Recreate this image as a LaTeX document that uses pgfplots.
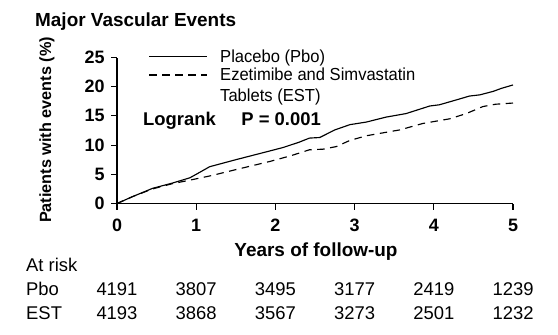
\documentclass[border=0pt]{standalone}
\usepackage{fontspec}
\setmainfont{Liberation Sans}
\usepackage{pgfplots}
\pgfplotsset{compat=1.18}
\begin{document}
\begin{tikzpicture}[x=1bp,y=1bp]
\useasboundingbox (0,0) rectangle (558,334);
\begin{axis}[
  at={(117bp,130.5bp)}, anchor=south west,
  scale only axis, width=396bp, height=146bp,
  xmin=0, xmax=5, ymin=0, ymax=25,
  axis lines=left, axis line style={line width=1.3pt,-},
  xtick={0,1,2,3,4,5}, ytick={0,5,10,15,20,25},
  tick align=outside, major tick length=6bp,
  tick style={line width=1.2pt,black},
  /pgf/number format/assume math mode=true,
  ticklabel style={font=\bfseries\fontsize{18}{20}\selectfont},
  yticklabel style={xshift=-3bp},
  xticklabel style={yshift=-6bp},
  clip=false,
]
\addplot[black, line width=1.15pt] coordinates {
(0,0) (0.2,1.2) (0.45,2.6) (0.7,3.5) (0.92,4.4) (1.0,5.0) (1.17,6.3) (1.5,7.5)
(1.93,9.0) (2.1,9.6) (2.3,10.5) (2.43,11.2) (2.56,11.3) (2.75,12.6) (2.94,13.5)
(3.15,13.95) (3.4,14.8) (3.65,15.4) (3.95,16.7) (4.07,16.9) (4.3,17.8) (4.45,18.4)
(4.58,18.6) (4.75,19.2) (4.85,19.7) (5.0,20.3)};
\addplot[black, line width=1.15pt, dash pattern=on 7.5bp off 5.5bp] coordinates {
(0,0) (0.2,1.2) (0.45,2.5) (0.7,3.4) (0.92,4.0) (1.2,4.8) (1.5,5.8) (1.93,7.2)
(2.2,8.2) (2.43,9.2) (2.6,9.3) (2.77,9.75) (2.94,10.8) (3.15,11.6) (3.4,12.2)
(3.57,12.6) (3.86,13.7) (4.2,14.5) (4.41,15.4) (4.62,16.6) (4.78,17.0) (5.0,17.2)};
\end{axis}
% title
\node[anchor=base west, font=\bfseries\fontsize{19}{21}\selectfont, inner sep=0] at (35,308) {Major Vascular Events};
% axis labels
\node[rotate=90, font=\bfseries\fontsize{16.3}{18}\selectfont, inner sep=0] at (47,204) {Patients with events (\%)};
\node[anchor=base, font=\bfseries\fontsize{19}{21}\selectfont, inner sep=0] at (316,78) {Years of follow-up};
% legend
\draw[black, line width=1.15pt] (149,277.3) -- (207,277.3);
\draw[black, line width=1.15pt, dash pattern=on 7.5bp off 5.5bp] (149,259) -- (207,259);
\begin{scope}[every node/.style={anchor=base west, inner sep=0, font=\addfontfeatures{FakeStretch=0.95}\fontsize{17.5}{20}\selectfont}]
\node at (220,271.5) {Placebo (Pbo)};
\node at (220,253.2) {Ezetimibe and Simvastatin};
\node at (220,232.5) {Tablets (EST)};
\end{scope}
\node[anchor=base west, inner sep=0, font=\bfseries\fontsize{18.5}{20}\selectfont] at (143,209) {Logrank};
\node[anchor=base east, inner sep=0, font=\bfseries\fontsize{18.5}{20}\selectfont] at (321,209) {P = 0.001};
% at risk table
\begin{scope}[every node/.style={inner sep=0, font=\fontsize{18.5}{20}\selectfont}]
\node[anchor=base west] at (26,62.3) {At risk};
\node[anchor=base west] at (26,38.3) {Pbo};
\node[anchor=base west] at (26,15) {EST};
\foreach \v [count=\i from 0] in {4191,3807,3495,3177,2419,1239} {
  \node[anchor=base] at (117+79.2*\i,38.3) {\v};
}
\foreach \v [count=\i from 0] in {4193,3868,3567,3273,2501,1232} {
  \node[anchor=base] at (117+79.2*\i,15) {\v};
}
\end{scope}
\end{tikzpicture}
\end{document}
